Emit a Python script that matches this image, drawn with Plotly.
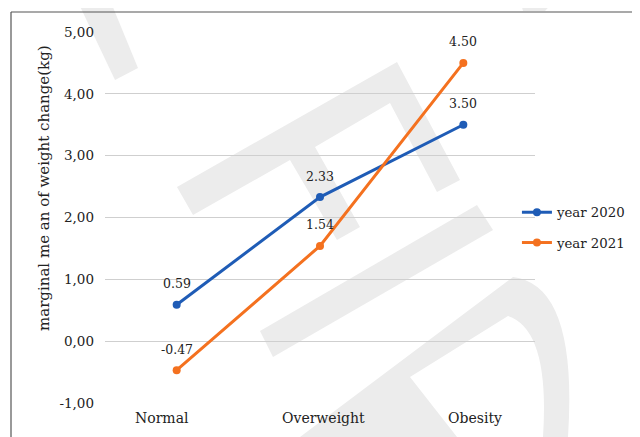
import plotly.graph_objects as go

categories = ["Normal", "Overweight", "Obesity"]
series_names = ["year 2020", "year 2021"]
values_2020 = [0.59, 2.33, 3.50]
values_2021 = [-0.47, 1.54, 4.50]
tick_values = [-1, 0, 1, 2, 3, 4, 5]
tick_labels = ["-1,00", "0,00", "1,00", "2,00", "3,00", "4,00", "5,00"]
y_title = "marginal me an of weight change(kg)"
colors = ["#1f5cb6", "#f4711f"]
category_label_shift = [-15, 3, 12]   # style: horizontal nudge of category labels

FONT = "DejaVu Serif"
TXT = "#222222"

# plot area on screen (pixels) used to place the decorative watermark
PX0, PX1, PY0, PY1 = 105, 535, 32, 403


def px(x):
    return (x - PX0) / (PX1 - PX0)


def py(y):
    return (PY1 - y) / (PY1 - PY0)


def poly(points):
    return "M " + " L ".join(f"{px(x):.4f},{py(y):.4f}" for x, y in points) + " Z"


fig = go.Figure()

# ---- light grey watermark (decoration) ----
wm = "#ececec"
watermark_polys = [
    [(77, 0), (110, 0), (138, 68), (115, 80)],
    [(520, 0), (555, 0), (545, 11), (523, 11)],
    [(177, 187), (397, 62), (460, 180), (437, 192), (390, 103), (315, 147),
     (360, 227), (337, 240), (290, 160), (193, 215)],
    [(260, 331), (477, 205), (493, 230), (273, 357)],
]
for pts in watermark_polys:
    fig.add_shape(type="path", xref="paper", yref="paper", path=poly(pts),
                  fillcolor=wm, line=dict(width=0), layer="below")
p_path = (f"M {px(300):.4f},{py(437):.4f} L {px(513):.4f},{py(277):.4f} "
          f"Q {px(578):.4f},{py(285):.4f} {px(568):.4f},{py(437):.4f} Z "
          f"M {px(410):.4f},{py(377):.4f} L {px(508):.4f},{py(316):.4f} "
          f"Q {px(550):.4f},{py(330):.4f} {px(543):.4f},{py(437):.4f} "
          f"L {px(457):.4f},{py(437):.4f} Z")
fig.add_shape(type="path", xref="paper", yref="paper", path=p_path,
              fillcolor=wm, line=dict(width=0), layer="below", fillrule="evenodd")

for name, vals, col in zip(series_names, [values_2020, values_2021], colors):
    fig.add_trace(go.Scatter(
        x=categories, y=vals, name=name, legendgroup=name, mode="lines+markers",
        line=dict(color=col, width=3),
        marker=dict(color=col, size=8),
    ))
    for c, v in zip(categories, vals):
        fig.add_annotation(x=c, y=v, text=f"{v:.2f}", showarrow=False,
                           yshift=21,
                           font=dict(family=FONT, size=12.5, color=TXT))

# category labels
for c, dx in zip(categories, category_label_shift):
    fig.add_annotation(x=c, xref="x", yref="paper", y=0, text=c, showarrow=False,
                       xshift=dx, yshift=-15, yanchor="middle",
                       font=dict(family=FONT, size=14, color=TXT))

# y-axis title
fig.add_annotation(xref="paper", yref="paper", x=px(33), y=py(188),
                   text=y_title, textangle=-90, showarrow=False,
                   font=dict(family=FONT, size=15, color=TXT))

# border of the chart box
fig.add_shape(type="line", xref="paper", yref="paper",
              x0=px(11), x1=px(660), y0=py(12), y1=py(12),
              line=dict(color="#555", width=1.2))
fig.add_shape(type="line", xref="paper", yref="paper",
              x0=px(11), x1=px(11), y0=py(12), y1=py(460),
              line=dict(color="#555", width=1.2))

fig.update_layout(
    width=640, height=437,
    margin=dict(l=97, r=113, t=24, b=42),
    paper_bgcolor="white", plot_bgcolor="rgba(0,0,0,0)",
    font=dict(family=FONT, size=13.5, color=TXT),
    showlegend=True,
    legend=dict(x=0.958, y=0.555, xanchor="left", yanchor="top",
                traceorder="grouped", tracegroupgap=10,
                font=dict(family=FONT, size=13.3, color=TXT),
                bgcolor="rgba(0,0,0,0)"),
    xaxis=dict(type="category", range=[-0.5, 2.5], showgrid=False,
               showline=False, ticks="", showticklabels=False),
    yaxis=dict(range=[-1, 5], tickvals=tick_values, ticktext=tick_labels,
               showgrid=True, gridcolor="#cfcfcf", gridwidth=1,
               zeroline=False, showline=False, ticks="",
               ticklabelstandoff=10,
               tickfont=dict(size=13.5)),
)

fig.write_html("out.html")
